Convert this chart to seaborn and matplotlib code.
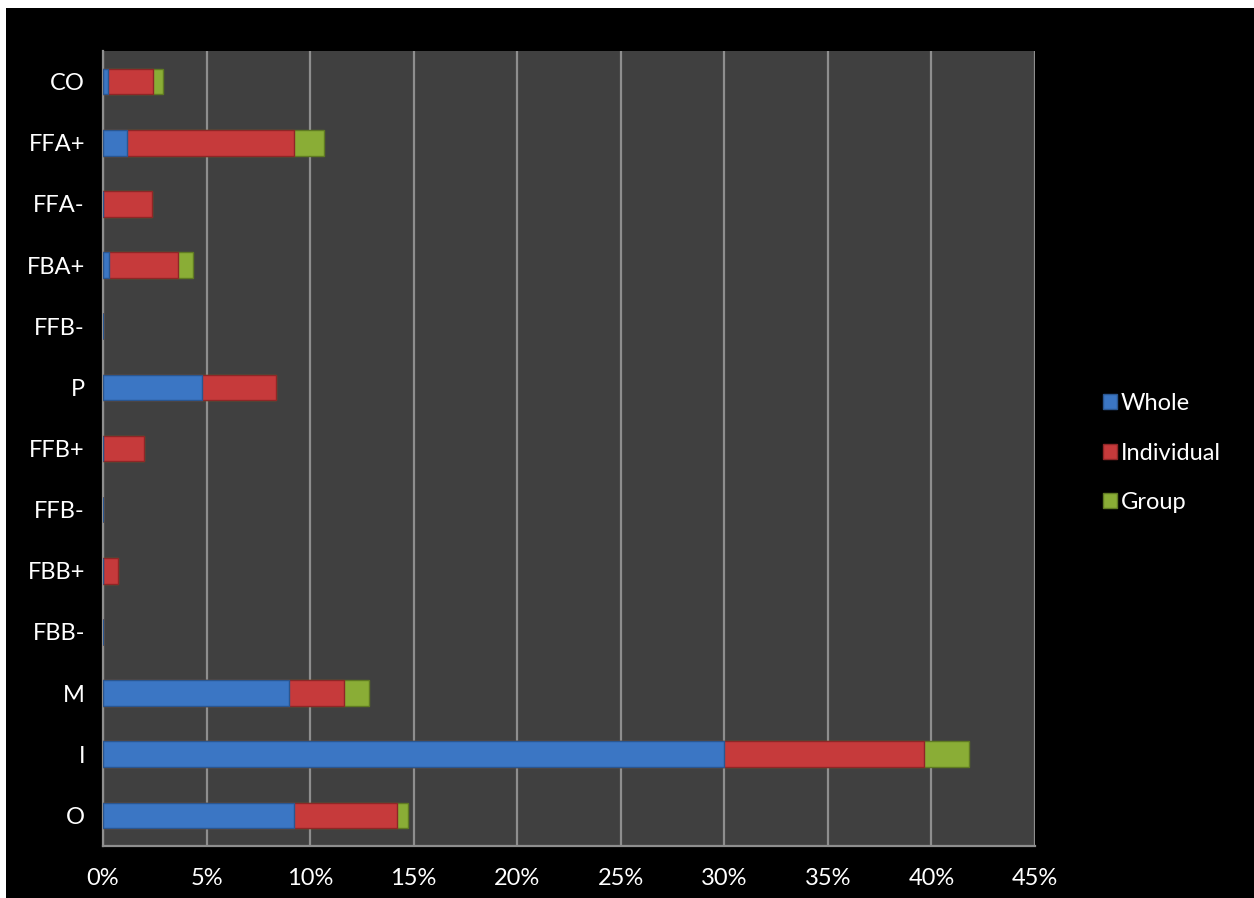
import matplotlib
matplotlib.use("Agg")
import matplotlib.pyplot as plt
import matplotlib.patches as mpatches
from matplotlib.ticker import FixedLocator, PercentFormatter
import seaborn as sns
import pandas as pd
import numpy as np

labels = ["CO", "FFA+", "FFA-", "FBA+", "FFB-", "P", "FFB+", "FFB-", "FBB+", "FBB-", "M", "I", "O"]
whole = [0.25, 1.17, 0.0, 0.30, 0.0, 4.77, 0.0, 0.0, 0.0, 0.0, 9.00, 29.97, 9.22]
individual = [2.18, 8.07, 2.37, 3.30, 0.0, 3.58, 1.98, 0.0, 0.72, 0.0, 2.62, 9.69, 4.98]
group = [0.45, 1.41, 0.0, 0.73, 0.0, 0.0, 0.0, 0.0, 0.0, 0.0, 1.21, 2.14, 0.51]
series_names = ["Whole", "Individual", "Group"]
colors = {"Whole": "#3b76c4", "Individual": "#c63a3b", "Group": "#8aad36"}
edges = {"Whole": "#2a5690", "Individual": "#8e2627", "Group": "#5f7a22"}
xticks = [0, 5, 10, 15, 20, 25, 30, 35, 40, 45]

sns.set_style("dark")
plt.rcParams["font.family"] = ["Lato", "DejaVu Sans"]
FS = 17

keys = [f"{l}_{i}" for i, l in enumerate(labels)]
w = np.array(whole)
ind = np.array(individual)
g = np.array(group)
df = pd.DataFrame({"key": keys, "Whole": w, "Individual": w + ind, "Group": w + ind + g})

fig = plt.figure(figsize=(12.54, 8.98), dpi=100)
fig.patch.set_facecolor("black")
ax = fig.add_axes([103 / 1254, 1 - 846 / 898, (1035 - 103) / 1254, (846 - 51) / 898])
ax.set_facecolor("#404040")

for name in ["Group", "Individual", "Whole"]:
    sns.barplot(data=df, y="key", x=name, order=keys, orient="h", color=colors[name],
                saturation=1, width=0.42, edgecolor=edges[name], linewidth=1.0, ax=ax, zorder=3)

ax.set_xlim(0, 45)
ax.set_ylim(len(keys) - 0.5, -0.5)
ax.xaxis.set_major_locator(FixedLocator(xticks))
ax.xaxis.set_major_formatter(PercentFormatter(decimals=0))
ax.grid(axis="x", color="#8e8e8e", linewidth=1.6, zorder=0)
ax.grid(axis="y", visible=False)
ax.set_axisbelow(True)

ax.set_yticks(range(len(keys)))
ax.set_yticklabels(labels)
ax.set_yticks(np.arange(-0.5, len(keys), 1.0), minor=True)
ax.tick_params(axis="y", which="major", length=0, pad=13, labelcolor="white", labelsize=FS)
ax.tick_params(axis="y", which="minor", length=8, width=1.6, color="#8e8e8e", direction="out")
ax.tick_params(axis="x", which="major", length=8, width=1.6, color="#8e8e8e", direction="out",
               labelcolor="white", labelsize=FS, pad=8)
ax.set_xlabel("")
ax.set_ylabel("")
for s in ["top", "right"]:
    ax.spines[s].set_visible(False)
for s in ["left", "bottom"]:
    ax.spines[s].set_visible(True)
    ax.spines[s].set_color("#8e8e8e")
    ax.spines[s].set_linewidth(1.6)

handles = [mpatches.Patch(facecolor=colors[n], edgecolor=edges[n], label=n) for n in series_names]
leg = fig.legend(handles=handles, loc="center left", bbox_to_anchor=(1082 / 1254, 1 - 453 / 898),
                 frameon=False, fontsize=FS, labelcolor="white", handlelength=0.6, handleheight=0.6,
                 handletextpad=0.15, labelspacing=1.2)

# white border strips like the reference
fig.patches.append(mpatches.Rectangle((0, 1 - 8 / 898), 1, 8 / 898, transform=fig.transFigure,
                                      facecolor="white", edgecolor="none", zorder=10))
fig.patches.append(mpatches.Rectangle((0, 0), 6 / 1254, 1, transform=fig.transFigure,
                                      facecolor="white", edgecolor="none", zorder=10))

fig.savefig("out.png", dpi=100, facecolor=fig.get_facecolor())
